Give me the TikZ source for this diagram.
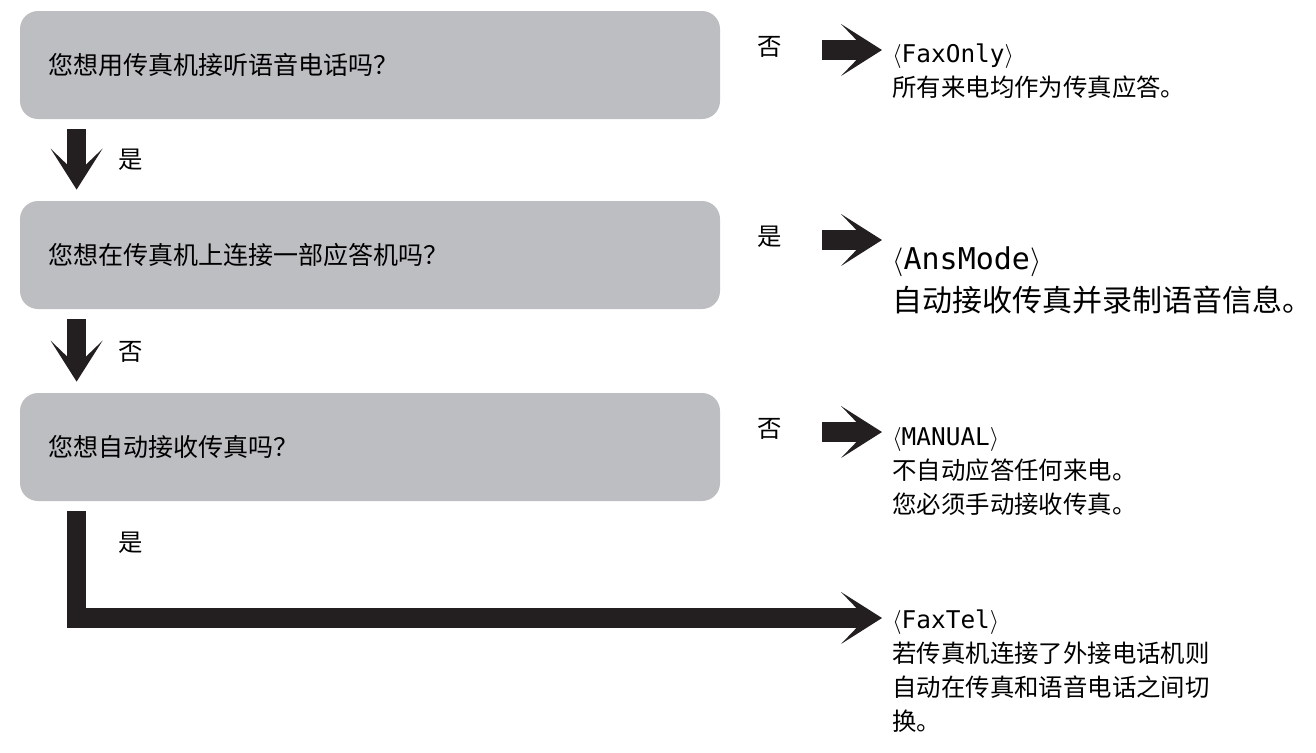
\documentclass[tikz,border=0pt]{standalone}
\usepackage{fontspec}
\newfontfamily\cjkfont{Noto Sans CJK SC}
\newfontfamily\monofont{DejaVu Sans Mono}
\usepackage{xcolor}
\usetikzlibrary{arrows.meta,calc}
\definecolor{boxgray}{HTML}{BDBEC2}
\definecolor{inkblack}{HTML}{231F20}
\newcommand{\modename}[1]{{\monofont$\langle$#1$\rangle$}}

\begin{document}
\begin{tikzpicture}[
  x=0.5pt, y=-0.5pt,
  qbox/.style={fill=boxgray, rounded corners=9pt, minimum width=350pt,
               minimum height=54pt, text width=322pt, inner xsep=14pt,
               align=left, font=\cjkfont\fontsize{12.5pt}{17pt}\selectfont},
  answer/.style={inner sep=0pt, font=\cjkfont\fontsize{12.2pt}{17pt}\selectfont},
  result/.style={anchor=north west, inner sep=0pt, align=left,
                 font=\cjkfont\fontsize{12.2pt}{17pt}\selectfont},
  fatarrow/.style={draw=inkblack, line width=9.75pt,
                   -{Stealth[length=20.5pt, width=26pt, inset=12.5pt, line width=0pt]}}
]
\useasboundingbox (0,0) rectangle (1316,752);
% Questions
\node[qbox] (q1) at (370,65)  {您想用传真机接听语音电话吗？};
\node[qbox] (q2) at (370,255) {您想在传真机上连接一部应答机吗？};
\node[qbox] (q3) at (370,447) {您想自动接收传真吗？};
% Answers below the boxes
\node[answer] (yes1) at (131,160) {是};
\node[answer] (no2)  at (131,352) {否};
\node[answer] (yes3) at (131,543) {是};
% Answers beside the boxes
\node[answer] (no1)  at (770,47)  {否};
\node[answer] (yes2) at (770,237) {是};
\node[answer] (no3)  at (770,429) {否};
% Modes
\node[result] (r1) at (892,43)  {\modename{FaxOnly}\\所有来电均作为传真应答。};
\node[result, font=\cjkfont\fontsize{15pt}{21pt}\selectfont]
              (r2) at (892,246) {\modename{AnsMode}\\自动接收传真并录制语音信息。};
\node[result] (r3) at (892,427) {\modename{MANUAL}\\不自动应答任何来电。\\您必须手动接收传真。};
\node[result] (r4) at (892,609) {\modename{FaxTel}\\若传真机连接了外接电话机则\\自动在传真和语音电话之间切\\换。};
% Arrow ends
\coordinate (s1) at (822,50);  \coordinate (t1) at (882,50);
\coordinate (s2) at (822,240); \coordinate (t2) at (882,240);
\coordinate (s3) at (822,432); \coordinate (t3) at (882,432);
\coordinate (t4) at (882,618);
% Arrows
\draw[fatarrow] ($(q1.south west)+(57,10)$) -- ($(q2.north west)+(57,-11)$);
\draw[fatarrow] ($(q2.south west)+(57,10)$) -- ($(q3.north west)+(57,-11)$);
\draw[fatarrow] ($(q3.south west)+(57,10)$) |- (t4);
\draw[fatarrow] (s1) -- (t1);
\draw[fatarrow] (s2) -- (t2);
\draw[fatarrow] (s3) -- (t3);
\end{tikzpicture}
\end{document}
